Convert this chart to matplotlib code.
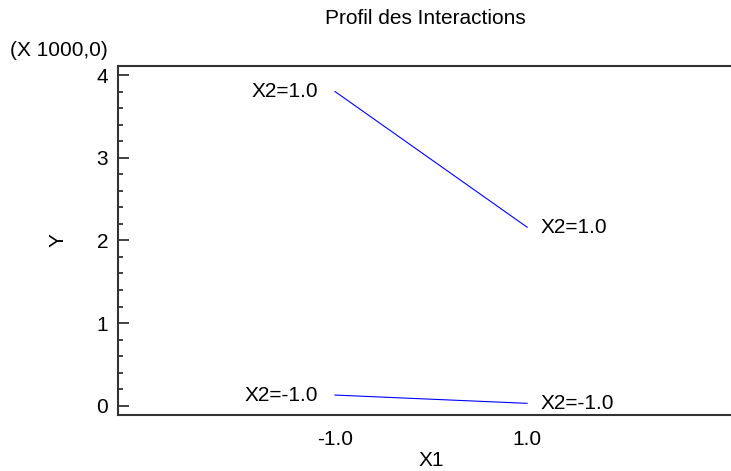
import matplotlib.pyplot as plt
import matplotlib.ticker as tck

plt.rcParams['font.family'] = ['Liberation Sans', 'DejaVu Sans']
plt.rcParams['ytick.direction'] = 'in'

# interaction profile: mean response at the two levels of X1, one line per X2 level
x1_levels = [-1.0, 1.0]
y_x2_high = [3800, 2160]
y_x2_low = [130, 30]
x2_labels = ["X2=1.0", "X2=-1.0"]
x_ticks = [-1.0, 1.0]
y_ticks = [0, 1000, 2000, 3000, 4000]

fig = plt.figure(figsize=(7.31, 4.71), dpi=100)
ax = fig.add_axes([0.1614, 0.1189, 0.8566, 0.741])

fs = 15
dark = "#333333"

ax.plot(x1_levels, y_x2_high, color="#0000ff", lw=0.8)
ax.plot(x1_levels, y_x2_low, color="#0000ff", lw=0.8)

for ys, lab in [(y_x2_high, x2_labels[0]), (y_x2_low, x2_labels[1])]:
    ax.annotate(lab, (x1_levels[0], ys[0]), xytext=(-12, 0), textcoords="offset points",
                ha="right", va="center", fontsize=fs)
    ax.annotate(lab, (x1_levels[1], ys[1]), xytext=(10, 0), textcoords="offset points",
                ha="left", va="center", fontsize=fs)

ax.set_xlim(-3.26, 3.26)
ax.set_ylim(-111, 4109)

ax.set_xticks(x_ticks)
ax.set_xticklabels([f"{v:.1f}" for v in x_ticks])
ax.set_yticks(y_ticks)
ax.yaxis.set_major_formatter(tck.FuncFormatter(lambda v, p: f"{v/1000:.0f}"))
ax.yaxis.set_minor_locator(tck.MultipleLocator(200))

ax.tick_params(axis="x", length=0, pad=11, labelsize=fs, colors="black")
ax.tick_params(axis="y", which="major", direction="in", length=8, width=1.3,
               color=dark, pad=7, labelsize=fs, right=True)
ax.tick_params(axis="y", which="minor", direction="in", length=3.5, width=1.3,
               color=dark, right=False)

for s in ax.spines.values():
    s.set_linewidth(1.5)
    s.set_color(dark)

ax.set_xlabel("X1", fontsize=fs)
ax.xaxis.set_label_coords(0.5, -0.103)
ax.set_ylabel("Y", fontsize=fs)
ax.yaxis.set_label_coords(-0.08, 0.5)

fig.text(425 / 731, 1 - 19 / 471, "Profil des Interactions", ha="center", va="center", fontsize=fs)
fig.text(10 / 731, 1 - 50 / 471, "(X 1000,0)", ha="left", va="center", fontsize=fs)

fig.savefig("out.png", dpi=100)
